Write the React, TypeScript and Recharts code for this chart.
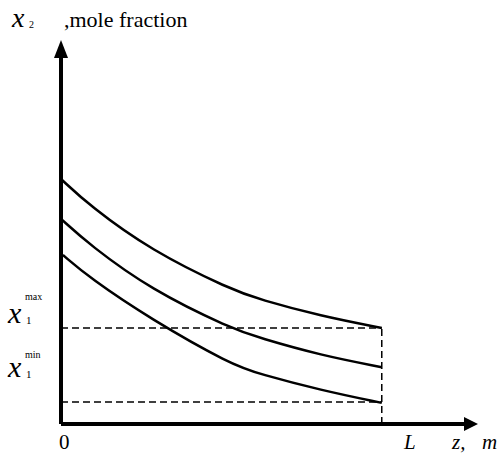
import { LineChart, Line, XAxis, YAxis, ReferenceLine } from 'recharts';

// distance along the column, z (L = 10)
const zPoints = [0, 0.9, 2.8, 5.3, 6.2, 8.1, 10];
const zLower = [0.06, 0.9, 2.8, 5.3, 6.2, 8.1, 10];
const upperCurve = [0.638, 0.568, 0.452, 0.35, 0.324, 0.281, 0.25];
const middleCurve = [0.534, 0.466, 0.35, 0.249, 0.224, 0.179, 0.148];
const lowerCurve = [0.44, 0.38, 0.273, 0.155, 0.13, 0.088, 0.055];
const zLength = 10;
const zAxisEnd = 13;
const x1Max = 0.25;
const x1Min = 0.057;

const toRows = (zs: number[], ys: number[]) => zs.map((z, i) => ({ z, y: ys[i] }));

const serif = '"Liberation Serif", "DejaVu Serif", serif';
const txt = (size: number, italic = false) => ({
  fontFamily: serif,
  fontSize: size,
  fontStyle: italic ? 'italic' : 'normal',
  fill: '#000',
});

function ArrowLine(props: any) {
  const { x1, y1, x2, y2 } = props;
  const vertical = Math.abs(x1 - x2) < 1;
  const head = vertical
    ? `${x2},${y2} ${x2 - 7},${y2 + 18} ${x2 + 7},${y2 + 18}`
    : `${x2},${y2} ${x2 - 14},${y2 - 7} ${x2 - 14},${y2 + 7}`;
  return (
    <g>
      <line
        x1={x1}
        y1={y1}
        x2={vertical ? x2 : x2 - 10}
        y2={vertical ? y2 + 12 : y2}
        stroke="#000"
        strokeWidth={4}
      />
      <polygon points={head} fill="#000" />
    </g>
  );
}

export default function App() {
  const lines = [
    { key: 'upper', data: toRows(zPoints, upperCurve) },
    { key: 'middle', data: toRows(zPoints, middleCurve) },
    { key: 'lower', data: toRows(zLower, lowerCurve) },
  ];

  return (
    <div style={{ position: 'absolute', left: 0, top: 0, background: '#fff' }}>
      <LineChart width={500} height={453} margin={{ top: 40, right: 22, left: 61, bottom: 29 }}>
        <XAxis type="number" dataKey="z" domain={[0, zAxisEnd]} hide />
        <YAxis type="number" domain={[0, 1]} hide />

        <ReferenceLine
          segment={[{ x: 0, y: x1Max }, { x: zLength, y: x1Max }]}
          stroke="#000"
          strokeWidth={1.5}
          strokeDasharray="7 4"
          ifOverflow="visible"
        />
        <ReferenceLine
          segment={[{ x: 0, y: x1Min }, { x: zLength, y: x1Min }]}
          stroke="#000"
          strokeWidth={1.5}
          strokeDasharray="7 4"
          ifOverflow="visible"
        />
        <ReferenceLine
          segment={[{ x: zLength, y: 0 }, { x: zLength, y: x1Max }]}
          stroke="#000"
          strokeWidth={1.5}
          strokeDasharray="7 4"
          ifOverflow="visible"
        />

        {lines.map((l) => (
          <Line
            key={l.key}
            data={l.data}
            dataKey="y"
            type="basis"
            stroke="#000"
            strokeWidth={2.5}
            dot={false}
            activeDot={false}
            isAnimationActive={false}
          />
        ))}

        <ReferenceLine
          segment={[{ x: 0, y: 0 }, { x: 0, y: 1 }]}
          shape={ArrowLine}
          ifOverflow="visible"
        />
        <ReferenceLine
          segment={[{ x: 0, y: 0 }, { x: zAxisEnd, y: 0 }]}
          shape={ArrowLine}
          ifOverflow="visible"
        />

        <text x={12} y={27} style={txt(28, true)}>x</text>
        <text x={29} y={28} style={txt(10)}>2</text>
        <text x={64} y={27} style={txt(22)}>,mole fraction</text>

        <text x={8} y={323} style={txt(30, true)}>x</text>
        <text x={26} y={324} style={txt(11)}>1</text>
        <text x={25} y={300} style={txt(10)}>max</text>

        <text x={8} y={377} style={txt(30, true)}>x</text>
        <text x={26} y={378} style={txt(11)}>1</text>
        <text x={25} y={358} style={txt(10)}>min</text>

        <text x={59} y={449} style={txt(21)}>0</text>
        <text x={404} y={449} style={txt(21, true)}>L</text>
        <text x={452} y={449} style={txt(21, true)}>z,</text>
        <text x={482} y={449} style={txt(21, true)}>m</text>
      </LineChart>
    </div>
  );
}
